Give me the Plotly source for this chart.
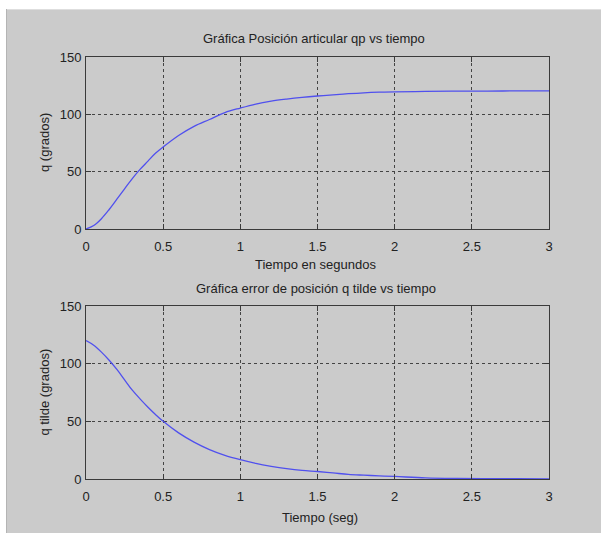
import plotly.graph_objects as go
from plotly.subplots import make_subplots

# Joint position response and position error over time
tiempo = [0, 0.05, 0.1, 0.15, 0.2, 0.25, 0.3, 0.35, 0.4, 0.45, 0.5, 0.6, 0.7, 0.8,
          0.9, 1.0, 1.1, 1.2, 1.3, 1.4, 1.5, 1.6, 1.7, 1.8, 1.9, 2.0, 2.2, 2.4,
          2.6, 2.8, 3.0]
q_pos = [0, 3, 9, 17, 26, 35, 44, 52, 59, 66, 71.5, 81.5, 89.5, 95.5, 101.5, 105.5,
         109, 111.5, 113.3, 114.8, 116, 117, 118, 118.8, 119.3, 119.6, 120, 120.2,
         120.3, 120.4, 120.4]
q_tilde = [120, 116, 110, 103, 95, 86, 77, 69.5, 62.5, 56, 50, 40, 32, 25.5, 20.5,
           16.7, 13.5, 11, 9, 7.5, 6.5, 5.3, 4, 3.3, 2.7, 2.2, 1, 0.5, 0.3, 0.2, 0.1]

x_ticks = [0, 0.5, 1, 1.5, 2, 2.5, 3]
x_tick_text = ["0", "0.5", "1", "1.5", "2", "2.5", "3"]
y_ticks = [0, 50, 100, 150]

titulo_sup = "Gráfica Posición articular qp vs tiempo"
titulo_inf = "Gráfica error de posición q tilde vs tiempo"
xlabel_sup = "Tiempo en segundos"
xlabel_inf = "Tiempo (seg)"
ylabel_sup = "q (grados)"
ylabel_inf = "q tilde (grados)"

W, H = 601, 535
L, R, T, B = 86, 549, 57, 479          # outer plotting box in pixels
TOP_BOTTOM, BOT_TOP = 229, 306          # inner edges of the two axes


def px(x):
    return (x - L) / (R - L)


def py(y):
    return (B - y) / (B - T)


fig = make_subplots(rows=2, cols=1)
fig.add_trace(go.Scatter(x=tiempo, y=q_pos, mode="lines",
                         line=dict(color="#5050ee", width=1.3),
                         line_shape="spline", showlegend=False), row=1, col=1)
fig.add_trace(go.Scatter(x=tiempo, y=q_tilde, mode="lines",
                         line=dict(color="#5050ee", width=1.3),
                         line_shape="spline", showlegend=False), row=2, col=1)

font = dict(family="Liberation Sans, Arial, sans-serif", size=13, color="#222222")

axis_common = dict(
    showline=True, linecolor="#3a3a3a", linewidth=1, mirror="allticks",
    ticks="inside", ticklen=5, tickcolor="#3a3a3a",
    showgrid=True, gridcolor="#444444", griddash="dot", gridwidth=1,
    zeroline=False, tickfont=font,
)

fig.update_xaxes(range=[0, 3], tickvals=x_ticks, ticktext=x_tick_text,
                 ticklabelstandoff=5, **axis_common)
fig.update_yaxes(range=[0, 150], tickvals=y_ticks, ticklabelstandoff=1, **axis_common)
fig.update_layout(
    xaxis=dict(domain=[0, 1]),
    yaxis=dict(domain=[py(TOP_BOTTOM), 1]),
    xaxis2=dict(domain=[0, 1]),
    yaxis2=dict(domain=[0, py(BOT_TOP)]),
)

# figure frame: white strips at top and left, grey window body
shapes = [
    dict(type="rect", xref="paper", yref="paper",
         x0=px(6), x1=px(W), y0=py(533), y1=py(9),
         fillcolor="#cbcbcb", line=dict(width=0), layer="below"),
    dict(type="line", xref="paper", yref="paper",
         x0=px(6), x1=px(W), y0=py(9.5), y1=py(9.5),
         line=dict(color="#dedede", width=1), layer="below"),
    dict(type="line", xref="paper", yref="paper",
         x0=px(6.5), x1=px(6.5), y0=py(533), y1=py(9),
         line=dict(color="#b4b4b4", width=1), layer="below"),
]

annots = []


def label(text, x, y, angle=0):
    annots.append(dict(text=text, x=px(x), y=py(y), xref="paper", yref="paper",
                       showarrow=False, textangle=angle, font=font,
                       xanchor="center", yanchor="middle"))


mid = (L + R) / 2
label(titulo_sup, mid - 4, 38)
label(xlabel_sup, mid - 2, 264)
label(ylabel_sup, 44, (T + TOP_BOTTOM) / 2, -90)
label(titulo_inf, mid - 2, 288)
label(xlabel_inf, mid + 2, 517)
label(ylabel_inf, 44, (BOT_TOP + B) / 2, -90)

fig.update_layout(
    width=W, height=H,
    margin=dict(l=L, r=W - R, t=T, b=H - B, pad=0),
    paper_bgcolor="white", plot_bgcolor="white",
    font=font, shapes=shapes, annotations=annots, showlegend=False,
)

fig.write_html("out.html")
